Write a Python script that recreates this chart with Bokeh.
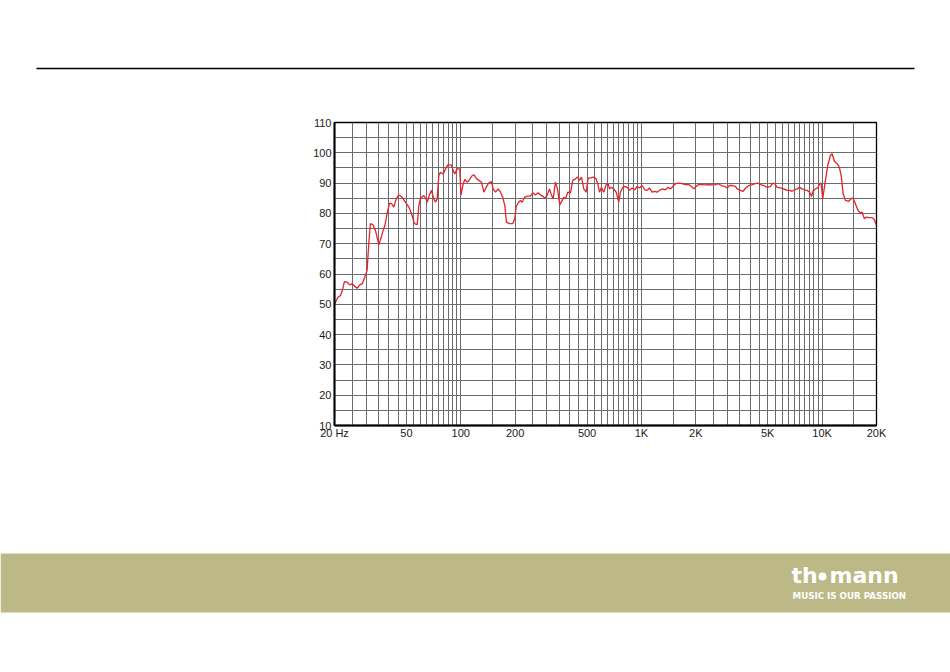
from bokeh.plotting import figure
from bokeh.models import Range1d, FixedTicker
from bokeh.embed import file_html
from bokeh.resources import INLINE
from bokeh.core.properties import value

# ---------------- data ----------------
freq_hz = [
    20, 20.9, 21.6, 22.1, 22.7, 23.5, 24.3, 25.1, 25.8, 26.7, 27.6, 28.5, 29.4, 30.3,
    31.0, 31.6, 32.6, 33.7, 35.2, 36.3, 37.2, 38.0, 39.1, 40.3, 41.4, 42.6, 43.9, 45.4,
    47.4, 49.4, 51.6, 53.4, 55.4, 57.4, 58.6, 59.8, 62.4, 63.8, 65.2, 67.1, 68.8, 70.9,
    72.4, 74.0, 75.6, 77.2, 79.9, 82.3, 84.7, 88.5, 90.8, 92.6, 95.5, 98.7, 100.2, 102.6,
    105.2, 108.5, 111.7, 115.6, 118.6, 121.7, 125.8, 130.2, 134.1, 138.2, 142.9, 147.9,
    151.1, 155.6, 161.0, 165.9, 170.8, 175.2, 179.0, 186.0, 194.0, 199.0, 202.5, 207.8,
    214.0, 218.7, 225.3, 233.1, 243.1, 250.3, 259.0, 268.1, 276.1, 284.3, 291.7, 300.8,
    309.7, 317.6, 324.6, 334.2, 343.0, 353.2, 364.2, 371.6, 379.8, 391.1, 404.6, 416.8,
    431.4, 442.6, 454.0, 465.7, 479.6, 494.5, 507.0, 522.2, 544.5, 561.6, 576.2, 585.8,
    600.8, 618.7, 637.8, 654.4, 665.4, 682.5, 702.8, 724.5, 748.9, 765.3, 788.2, 808.5,
    833.6, 858.4, 888.4, 918.4, 947.0, 975.0, 1009, 1043, 1075, 1107, 1146, 1185, 1222,
    1274, 1312, 1358, 1406, 1447, 1491, 1543, 1609, 1680, 1752, 1827, 1891, 1947, 2008,
    2075, 2168, 2261, 2358, 2462, 2568, 2658, 2772, 2891, 2981, 3070, 3178, 3314, 3386,
    3532, 3655, 3764, 3926, 4100, 4275, 4402, 4556, 4752, 4962, 5176, 5330, 5467, 5637,
    5878, 6132, 6404, 6618, 6823, 7026, 7272, 7516, 7751, 7980, 8260, 8538, 8725, 8916,
    9181, 9454, 9700, 9874, 10078, 10430, 10740, 11116, 11360, 11697, 12106, 12468,
    12788, 13068, 13458, 14036, 14472, 14846, 15288, 15826, 16296, 16652, 17140, 17586,
    18108, 18910, 19472, 20000,
]
level_db = [
    50.0, 52.3, 52.9, 54.6, 57.5, 57.3, 56.4, 56.8, 56.0, 55.3, 56.4, 56.8, 58.9, 61.2,
    70.5, 76.6, 76.3, 74.4, 69.6, 72.2, 74.4, 76.0, 79.9, 83.4, 83.2, 82.1, 84.8, 86.1,
    85.3, 83.7, 82.1, 79.9, 76.6, 76.3, 82.6, 85.0, 85.9, 85.0, 83.7, 86.1, 87.6, 84.8,
    83.7, 84.8, 92.5, 93.6, 93.0, 94.7, 96.0, 96.0, 94.2, 93.0, 94.7, 94.7, 86.0, 89.2,
    91.2, 90.3, 91.1, 92.5, 92.7, 91.6, 90.9, 90.3, 87.0, 88.6, 90.1, 90.5,
    88.1, 87.0, 88.1, 87.0, 85.3, 82.6, 77.1, 76.6, 76.6, 78.2, 82.1, 83.5,
    84.3, 83.7, 85.3, 85.7, 85.7, 86.8, 86.1, 86.8, 86.1, 85.7, 85.0, 85.9,
    88.1, 86.1, 84.8, 90.3, 88.1, 82.8, 84.3, 85.3, 84.8, 87.0, 86.8, 90.9,
    91.4, 92.0, 90.9, 92.0, 88.1, 87.0, 91.6, 91.7, 92.0, 91.4, 89.2, 87.0,
    88.6, 87.0, 89.5, 89.8, 88.1, 88.6, 88.1, 87.0, 83.7, 87.0, 88.6, 88.9,
    88.6, 87.6, 88.4, 87.8, 88.9, 88.4, 89.2, 87.8, 87.6, 88.4, 87.0, 87.3, 87.0,
    87.8, 88.1, 87.8, 88.6, 88.1, 88.9, 89.8, 90.0, 89.8, 89.5, 89.5, 88.9, 88.1, 88.9,
    89.5, 89.5, 89.4, 89.5, 89.4, 89.5, 89.8, 89.2, 88.9, 88.4, 89.2, 89.2, 88.9, 88.1,
    87.6, 87.3, 88.3, 89.2, 89.5, 89.8, 90.0, 89.5, 89.2, 88.6, 88.9, 90.0, 89.8, 88.6,
    88.4, 88.1, 87.6, 87.6, 87.3, 87.8, 88.1, 88.6, 88.1, 87.8, 87.6, 87.0, 85.6, 87.3,
    88.1, 88.4, 89.8, 90.0, 84.8, 90.9, 95.8, 99.1, 99.7, 97.2, 96.4, 95.2,
    92.0, 86.5, 84.3, 84.0, 84.8, 85.1, 83.2, 80.9, 80.1, 80.4, 78.2, 78.8,
    78.6, 78.6, 77.9, 76.0,
]

x_ticks = [20, 50, 100, 200, 500, 1000, 2000, 5000, 10000, 20000]
x_tick_labels = ["20 Hz", "50", "100", "200", "500", "1K", "2K", "5K", "10K", "20K"]
y_ticks = [10, 20, 30, 40, 50, 60, 70, 80, 90, 100, 110]

grid_freqs = (list(range(20, 101, 5)) + list(range(150, 1001, 50))
              + list(range(1500, 10001, 500)) + [15000, 20000])
grid_db = list(range(10, 111, 5))

W = 950
FONT = "Liberation Sans"
LOGO_FONT = value("DejaVu Sans")

# ---------------- header with rule ----------------
header = figure(width=W, height=100, x_range=Range1d(0, W), y_range=Range1d(100, 0),
                x_axis_location=None, y_axis_location=None, min_border=0,
                output_backend="svg", toolbar_location=None)
header.grid.visible = False
header.outline_line_color = None
header.segment(x0=[36], y0=[68], x1=[914], y1=[68], line_color="black", line_width=1.3)

# ---------------- main chart ----------------
p = figure(width=W, height=445, x_axis_type="log",
           x_range=Range1d(20, 20000), y_range=Range1d(10, 110),
           min_border_left=334, min_border_right=74, min_border_top=22, min_border_bottom=120,
           output_backend="svg", toolbar_location=None)

p.xgrid.ticker = FixedTicker(ticks=grid_freqs)
p.ygrid.ticker = FixedTicker(ticks=grid_db)
p.grid.grid_line_color = "#6c6c6c"
p.grid.grid_line_width = 1
p.grid.grid_line_alpha = 1

p.line(freq_hz, level_db, line_color="#e4232b", line_width=1.3)

p.outline_line_color = "black"
p.outline_line_width = 1.3
p.outline_line_alpha = 1

p.xaxis.ticker = FixedTicker(ticks=x_ticks, minor_ticks=[])
p.xaxis.major_label_overrides = {t: lab for t, lab in zip(x_ticks, x_tick_labels)}
p.yaxis.ticker = FixedTicker(ticks=y_ticks, minor_ticks=[])
p.yaxis.major_label_overrides = {t: str(t) for t in y_ticks}

for ax in (p.xaxis[0], p.yaxis[0]):
    ax.axis_line_color = "black"
    ax.axis_line_width = 2
    ax.major_tick_line_color = None
    ax.minor_tick_line_color = None
    ax.major_tick_out = 0
    ax.major_tick_in = 0
    ax.minor_tick_out = 0
    ax.minor_tick_in = 0
    ax.major_label_text_font = FONT
    ax.major_label_text_font_size = "11px"
    ax.major_label_text_color = "#1a1a1a"
p.xaxis.major_label_standoff = 1
p.yaxis.major_label_standoff = 3

# ---------------- footer band ----------------
FH = 126
footer = figure(width=W, height=FH, x_range=Range1d(0, W), y_range=Range1d(545 + FH, 545),
                x_axis_location=None, y_axis_location=None, min_border=0,
                output_backend="svg", toolbar_location=None)
footer.grid.visible = False
footer.outline_line_color = None
footer.quad(left=[0], right=[W], top=[553], bottom=[612], fill_color="#bdb987", line_color=None)
footer.text(x=[791], y=[575], text=["th"], text_font=LOGO_FONT, text_font_style="bold",
            text_font_size="22px", text_color="white", text_baseline="alphabetic", text_align="left")
footer.scatter(x=[822], y=[576], size=8, fill_color="white", line_color=None)
footer.text(x=[829], y=[575], text=["mann"], text_font=LOGO_FONT, text_font_style="bold",
            text_font_size="22px", text_color="white", text_baseline="alphabetic", text_align="left")
footer.text(x=[792], y=[595.5], text=["MUSIC IS OUR PASSION"], text_font=LOGO_FONT,
            text_font_style="bold", text_font_size="8.7px", text_color="white",
            text_baseline="alphabetic", text_align="left")

with open("out.html", "w") as f:
    f.write(file_html([header, p, footer], INLINE))
